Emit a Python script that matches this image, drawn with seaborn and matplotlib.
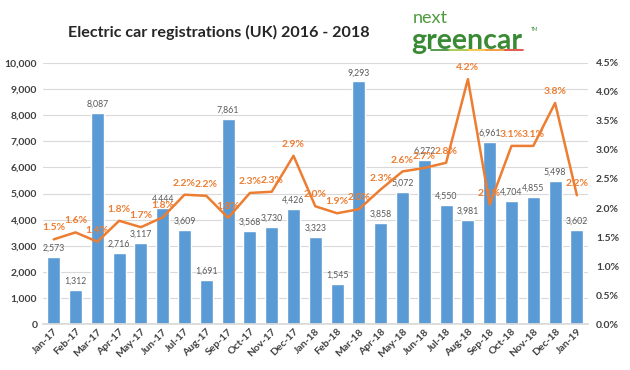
import matplotlib

matplotlib.use("Agg")
import matplotlib.pyplot as plt
import numpy as np
import pandas as pd
import seaborn as sns

# --- Data ---
MONTHS = [
    "Jan-17", "Feb-17", "Mar-17", "Apr-17", "May-17", "Jun-17", "Jul-17",
    "Aug-17", "Sep-17", "Oct-17", "Nov-17", "Dec-17", "Jan-18", "Feb-18",
    "Mar-18", "Apr-18", "May-18", "Jun-18", "Jul-18", "Aug-18", "Sep-18",
    "Oct-18", "Nov-18", "Dec-18", "Jan-19",
]
REGISTRATIONS = [
    2573, 1312, 8087, 2716, 3117, 4444, 3609, 1691, 7861, 3568, 3730, 4426,
    3323, 1545, 9293, 3858, 5072, 6272, 4550, 3981, 6961, 4704, 4855, 5498, 3602,
]
MARKET_SHARE = [
    1.46, 1.58, 1.42, 1.78, 1.67, 1.84, 2.23, 2.21, 1.83, 2.26, 2.28, 2.90,
    2.03, 1.91, 1.98, 2.32, 2.63, 2.69, 2.78, 4.22, 2.06, 3.07, 3.07, 3.81, 2.22,
]

BAR_COLOR = "#5B9BD5"
LINE_COLOR = "#ED7D31"
TEXT_COLOR = "#404040"
FONT = ["Lato", "DejaVu Sans"]

sns.set_theme(style="white")
plt.rcParams["font.family"] = FONT

df = pd.DataFrame({"month": MONTHS, "regs": REGISTRATIONS, "share": MARKET_SHARE})
x = np.arange(len(df))

fig = plt.figure(figsize=(6.3, 3.7), dpi=100)
ax = fig.add_axes([0.068, 0.124, 0.865, 0.706])

sns.barplot(data=df, x="month", y="regs", color=BAR_COLOR, width=0.6,
            saturation=1, ax=ax, zorder=2)
ax.set_ylim(0, 10000)
ax.set_xlim(-0.5, len(df) - 0.5)
ax.set_yticks(np.arange(0, 10001, 1000))
ax.set_yticklabels([f"{v:,}" for v in range(0, 10001, 1000)])
ax.yaxis.grid(True, color="#D9D9D9", linewidth=0.8, zorder=0)
ax.set_axisbelow(True)
ax.set_xlabel("")
ax.set_ylabel("")
for side in ["top", "right", "left"]:
    ax.spines[side].set_visible(False)
ax.spines["bottom"].set_color("#D9D9D9")
ax.tick_params(axis="y", length=0, labelsize=7.5, labelcolor=TEXT_COLOR, pad=4)
ax.tick_params(axis="x", length=0, labelsize=7.5, labelcolor=TEXT_COLOR, pad=2)
for lbl in ax.get_yticklabels() + ax.get_xticklabels():
    lbl.set_fontweight("bold")
plt.setp(ax.get_xticklabels(), rotation=45, ha="right", rotation_mode="anchor")

# small tick marks between categories, as in the Excel original
ax.set_xticks(np.arange(-0.5, len(df), 1), minor=True)
ax.tick_params(axis="x", which="minor", length=3, color="#F4B183", width=0.8)

ax.bar_label(ax.containers[0], labels=[f"{v:,}" for v in REGISTRATIONS],
             fontsize=6.3, color="#595959", padding=3)

# --- Market share line on the secondary axis ---
ax2 = ax.twinx()
sns.lineplot(x=x, y=df["share"], color=LINE_COLOR, linewidth=1.8, ax=ax2)
ax2.set_ylim(0, 4.5)
ax2.set_yticks(np.arange(0, 4.51, 0.5))
ax2.set_yticklabels([f"{v:.1f}%" for v in np.arange(0, 4.51, 0.5)])
ax2.set_ylabel("")
for side in ["top", "right", "left", "bottom"]:
    ax2.spines[side].set_visible(False)
ax2.tick_params(axis="y", length=0, labelsize=7.5, labelcolor=TEXT_COLOR, pad=6)
for lbl in ax2.get_yticklabels():
    lbl.set_fontweight("bold")

for xi, v in zip(x, MARKET_SHARE):
    ax2.annotate(f"{v:.1f}%", (xi, v), xytext=(0, 5), textcoords="offset points",
                 ha="center", va="bottom", fontsize=7.5, fontweight="bold",
                 color=LINE_COLOR)

# --- Title and logo ---
fig.text(0.108, 0.912, "Electric car registrations (UK) 2016 - 2018",
         fontsize=11.6, fontweight="bold", color="#262626", va="center")

fig.text(0.655, 0.952, "next", fontsize=13, color="#4E9A3E", va="center")
fig.text(0.652, 0.89, "greencar", fontsize=20.5, color="#3A8A35", va="center",
         fontweight="bold")
fig.text(0.842, 0.92, "TM", fontsize=3.5, color="#3A8A35", va="center")
seg_colors = ["#3A8A35", "#9BC53D", "#F2C12E", "#F28C28", "#E03C31"]
x0, x1 = 0.684, 0.83
step = (x1 - x0) / len(seg_colors)
for i, c in enumerate(seg_colors):
    fig.add_artist(plt.Line2D([x0 + i * step, x0 + (i + 1) * step], [0.866, 0.866],
                              color=c, linewidth=1.2, transform=fig.transFigure))

fig.savefig("out.png", dpi=100)
